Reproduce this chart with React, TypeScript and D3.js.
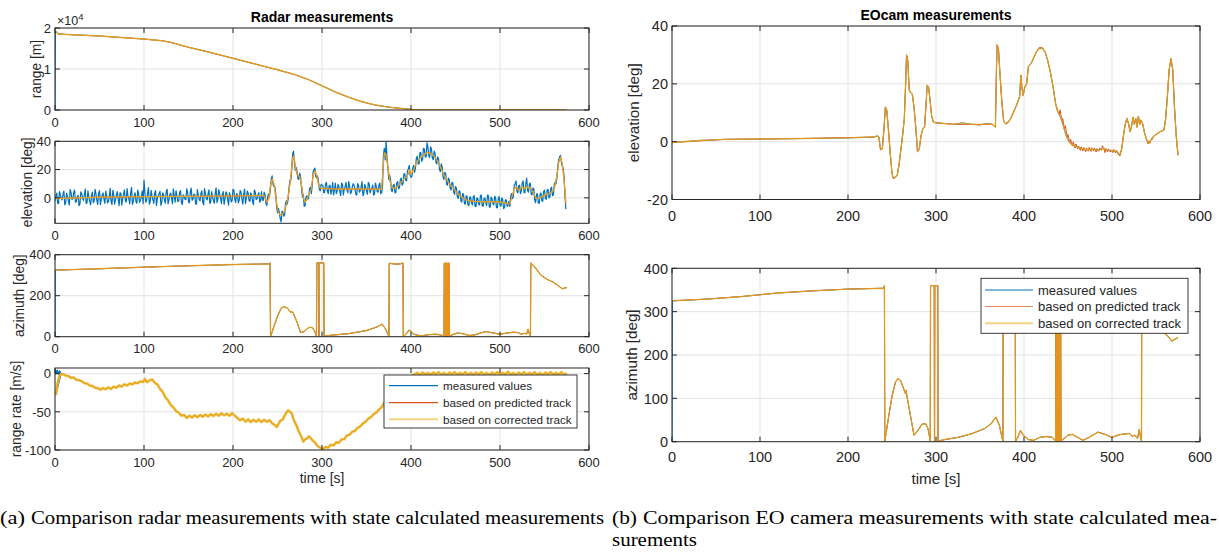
import React from "react";
import * as d3 from "d3";

type Pt = [number, number];

// ---------- shared axis values ----------
const timeTicks = [0, 100, 200, 300, 400, 500, 600];

const BLUE = "#0072BD";
const RED = "#D95319";
const YELLOW = "#EDB120";
const AXIS = "#262626";
const GRID = "#e3e3e3";
const SANS = "Liberation Sans, Arial, Helvetica, sans-serif";
const SERIF = "Liberation Serif, Times New Roman, serif";

// ---------- radar: range [m] ----------
const radarRangeTrack: Pt[] = [
  [1, 19200], [3, 18600], [10, 18450], [50, 18050], [100, 17300], [120, 16900], [130, 16500],
  [150, 15300], [175, 14000], [200, 12600], [225, 11200], [250, 9800], [270, 8600], [285, 7400],
  [300, 5900], [315, 4400], [330, 3100], [345, 2000], [360, 1200], [375, 700], [390, 350],
  [400, 150], [410, 80], [450, 60], [575, 50],
];
const radarRangeFirstMeasured: Pt[] = [[0, 0], [0.4, 18500]];

// ---------- radar: elevation [deg] ----------
// measured samples at even seconds (t = 0, 2, ..., 574)
const radarElevMeasuredEven = [
  -2.1, 3.4, -4.0, 2.2, -1.5, 4.8, -3.6, 1.0, -5.2, 3.9,
  -0.8, 5.5, -2.7, 1.8, -4.4, 3.0, -1.9, 6.2, -3.3, 0.6,
  -5.0, 4.1, -2.2, 2.9, -4.6, 5.1, -1.0, 3.5, -3.9, 1.4,
  -2.6, 6.8, -4.8, 2.0, -1.3, 4.4, -5.6, 3.2, -0.5, 5.7,
  -3.0, 1.1, -4.2, 7.5, -2.4, 3.6, -3.8, 2.5, -1.6, 4.9,
  12.5, -3.1, 2.8, -4.5, 5.3, -1.2, 3.0, -5.4, 1.7, 4.6,
  -2.9, 2.3, -3.7, 6.0, -1.4, 3.4, -4.1, 1.2, 5.0, -2.5,
  3.8, -3.5, 2.1, -0.9, 6.4, -2.8, 4.0, -1.7, 2.6, -4.3,
  5.8, -1.1, 3.3, -3.2, 6.6, -0.6, 2.9, -4.0, 4.5, -1.8,
  3.1, -3.4, 5.9, -0.3, 2.4, -4.7, 4.2, -1.5, 3.7, -2.9,
  6.1, -1.0, 3.0, -3.6, 5.2, -0.8, 2.7, -4.1, 4.8, -1.9,
  3.5, -2.6, 5.6, -1.2, 2.2, -3.0,
  4.5, -1.8, 2.0, -5.5, 2.8, 6.0, 15.5, 8.0, 3.0, -10.5,
  -10.0, -17.0, -9.5, -12.0, -2.0, -0.5, 12.5, 20.0, 33.0, 19.5,
  18.5, 13.0, 14.5, 0.5, -6.0, 0.5, -1.0, 6.5, 3.0, 18.5,
  21.0, 14.0, 12.0, 5.0, 9.0,
  3.5, 10.0, 5.0, 8.5, 2.5, 11.0, 6.0, 3.0, 9.5, 4.5,
  10.5, 2.0, 8.0, 5.5, 11.5, 3.0, 7.5, 9.0, 2.5, 10.0,
  4.0, 8.0, 1.5, 9.5, 5.0, 11.0, 3.5, 7.0, 2.0, 10.5,
  4.5, 9.0, 3.0, 8.0,
  35, 40, 22, 16, 5, 9, 3.5, 10.5, 6.5, 13, 9, 17, 12.5, 19, 23, 14.5,
  21, 18, 28, 24, 32, 26, 35, 29, 39, 30, 36, 28, 33, 25, 29, 20, 24, 15, 18, 9.5,
  14, 7, 11, 4, 8, 1, 5, -2, 3, -4,
  1.5, -5, 0.5, -3.5, 1, -6, 0, -4.5, 1.5, -5.5,
  -0.5, -3.5, 2, -6.5, 0.5, -4, 1, -7, -1, -5,
  0, -7.5, -1.5, -6, -2.5,
  1, -0.5, 9, 12, 3.5, 9, 5, 12, 3.5, 14,
  4, 10.5, 2, 6.5, -3.5, 3, -4, 3.5, -2.5, 5.5,
  -1, 6, 0.5, 7.5, 2, 11, 14.5, 27, 30, 22,
  15, -8,
];
// measured samples at odd seconds (t = 1, 3, ..., 573)
const radarElevMeasuredOdd = [
  1.2, -3.8, 4.5, -0.4, 2.7, -4.9, 3.3, -2.0, 5.9, -1.1,
  3.8, -3.1, 0.9, -5.5, 4.3, -0.2, 2.5, -4.0, 5.0, -2.3,
  1.6, -3.4, 6.1, -1.7, 3.0, -4.8, 2.1, -0.9, 4.7, -3.6,
  0.5, -2.8, 5.3, -4.4, 1.9, -1.0, 3.6, -5.1, 2.4, -2.1,
  6.5, -0.7, 3.2, -4.6, 1.3, -2.9, 5.4, -3.3, 0.2, -4.2,
  4.0, -1.5, 7.2, -2.6, 1.0, -3.9, 5.1, -0.6, 2.8, -5.3,
  3.5, -1.8, 4.6, -4.3, 2.2, -0.4, 6.3, -3.0, 1.5, -2.4,
  5.2, -4.7, 0.8, -1.3, 3.9, -3.5, 6.9, -0.9, 2.3, -4.5,
  1.7, -2.2, 4.9, -5.0, 3.1, -1.4, 5.6, -2.7, 0.6, -3.8,
  7.0, -1.1, 2.6, -4.1, 4.4, -0.5, 3.2, -5.2, 1.4, -2.0,
  5.5, -3.3, 2.0, -1.6, 4.2, -4.4, 6.2, -0.3, 3.4, -2.5,
  1.8, -4.9, 4.1, -0.7, 3.7, -2.2,
  -1.5, 4.0, -4.0, 1.0, 1.0, 13.5, 9.5, 8.0, -6.0, -7.5,
  -14.5, -9.5, -13.0, -4.0, -4.5, 7.5, 12.5, 31.0, 24.5, 21.5,
  13.5, 17.5, 6.5, 2.5, -5.5, 1.5, 0.0, 7.5, 8.5, 20.0,
  15.0, 15.5, 6.0, 9.5,
  8.5, 4.0, 11.0, 3.0, 9.0, 5.5, 2.0, 10.5, 4.5, 8.0,
  1.5, 9.5, 6.0, 11.0, 3.5, 8.5, 4.0, 10.0, 6.5, 2.0,
  9.0, 5.0, 11.5, 3.0, 7.5, 2.5, 10.0, 5.5, 9.0, 2.5,
  8.0, 4.0, 10.5, 3.5,
  30, 27, 29, 13, 13, 4.5, 9.5, 4, 11.5, 7, 14, 10, 17, 12, 20.5, 16,
  15, 23, 21, 29.5, 24, 32, 27, 34.5, 29, 36, 28.5, 34.5, 27, 31.5, 24, 27.5, 18.5, 22, 13, 17,
  9, 13, 5.5, 10.5, 2.5, 7, -0.5, 4.5, -3, 2.5,
  -4.5, 1, -5.5, 0.5, -5, 1.5, -6, -0.5, -5, 2,
  -6, 0, -5.5, 1.5, -6.5, -0.5, -5, 0.5, -7, 1,
  -6, -1, -7, -1.5, -5.5,
  -6, 3, 1, 10, 4.5, 8.5, 3, 10.5, 4, 10,
  5, 9.5, 3, 7, -1.5, 2.5, -3.5, 2.5, -2, 4.5,
  -0.5, 5.5, 0, 6.5, 1.5, 9.5, 10, 23, 29, 25,
  21, 1,
];
const radarElevTrack: Pt[] = [
  [1, -0.5], [50, 0.5], [100, 0.9], [150, 1.1], [200, 1.3], [232, 1.7], [235, 1.2], [238, -3],
  [240, -1], [242, 8], [244, 13.5], [246, 10], [248, 1], [250, -8], [252, -11.5], [255, -12],
  [258, -9], [261, -2], [263, 5], [265, 15], [267, 28], [268.5, 30], [270, 22], [272, 16.5],
  [275, 15], [277, 9], [279, 0], [281, -3], [283, -1], [286, 4], [288, 6], [290, 16], [292, 19],
  [294, 16], [296, 10], [298, 7], [302, 6.5], [320, 6.2], [340, 6.3], [360, 6.2], [367, 6],
  [368.5, 20], [370, 32], [372, 30], [374, 22], [376, 13], [378, 8], [380, 6.5], [383, 7],
  [387, 9.5], [391, 12.5], [395, 15], [397, 17], [398.5, 20], [400, 17], [403, 20], [406, 25],
  [410, 28], [414, 30.5], [418, 32], [422, 31.5], [426, 29.5], [430, 26], [434, 20.5], [438, 15],
  [442, 11], [446, 8], [450, 5], [454, 2], [458, 0], [462, -1.5], [470, -2.5], [480, -2.8],
  [490, -2.7], [500, -3], [506, -3.5], [510, -4.5], [512, -2], [514, 2], [516, 6], [518, 8],
  [520, 6], [522, 5], [524, 8], [526, 7], [528, 6.5], [530, 8], [532, 7], [534, 7.5], [536, 5],
  [538, 3], [540, 0], [543, -0.5], [546, 0.5], [550, 2], [555, 3], [560, 5], [562, 9], [564, 16],
  [566, 25], [568, 29], [570, 24], [572, 13], [574, -4],
];

// ---------- radar: azimuth [deg] ----------
const radarAzimuthTrack: Pt[] = [
  [1, 325], [40, 330], [80, 336], [120, 342], [160, 347], [200, 352], [241, 355], [241.6, 360],
  [242.2, 1], [246, 50], [250, 100], [254, 138], [257, 147], [261, 140], [265, 118], [266.5, 122],
  [268, 112], [272, 70], [276, 20], [280, 25], [285, 45], [289, 45], [292, 25], [293.8, 2],
  [294.2, 360], [296.5, 360], [296.8, 2], [297.1, 360], [302, 360], [302.3, 2], [310, 7],
  [330, 15], [350, 30], [362, 48], [367.5, 62], [371, 40], [375.2, 1], [375.6, 358], [383, 354],
  [388, 355], [391, 360], [391.4, 1], [395, 15], [398, 33], [402, 15], [406, 8], [412, 4],
  [420, 10], [428, 12], [434, 8], [437, 2], [437.5, 359], [438, 1], [438.5, 360], [439, 2],
  [439.4, 359], [439.8, 1], [440.2, 360], [440.6, 3], [441, 358], [441.4, 1], [441.8, 359],
  [442.3, 2], [442.8, 360], [443.2, 3], [447, 10], [452, 18], [458, 15], [465, 6], [471, 8],
  [478, 18], [484, 25], [490, 20], [500, 12], [508, 18], [515, 22], [520, 20], [524, 12],
  [527, 16], [530, 14], [531.5, 36], [533, 15], [534.2, 3], [534.6, 360], [540, 335], [546, 300],
  [553, 280], [560, 265], [565, 250], [570, 234], [573, 238], [575, 240],
];
const radarAzimuthFirstMeasured: Pt[] = [[0, 0], [0.4, 325]];

// ---------- radar: range rate [m/s] ----------
const rangeRateTrack: Pt[] = [
  [1, -28], [3, -12], [5, -3], [7, 0], [9, -1], [12, -2.5], [15, -3], [18, -5.5], [21, -5],
  [24, -8], [27, -8.5], [30, -10], [33, -12.5], [36, -13], [39, -15.5], [42, -16], [45, -18.5],
  [48, -19], [51, -21], [54, -19], [57, -20.5], [60, -18], [63, -20], [66, -17], [69, -18.5],
  [72, -15.5], [75, -17], [78, -14], [81, -15.5], [84, -13], [87, -14], [90, -11.5], [93, -12.5],
  [96, -10], [99, -11], [101, -7], [103, -11], [106, -9], [109, -7.5], [112, -12], [115, -14],
  [118, -20], [121, -24], [124, -31], [127, -35], [130, -41], [133, -44], [136, -49], [139, -51],
  [142, -55], [145, -54], [148, -58], [151, -55], [154, -57.5], [157, -54.5], [160, -57],
  [163, -54], [166, -56.5], [169, -53.5], [172, -56], [175, -53], [178, -55.5], [181, -52.5],
  [184, -55], [187, -52], [190, -54.5], [193, -52.5], [196, -55], [199, -52], [202, -55],
  [205, -58], [208, -61], [211, -59], [214, -63], [217, -60], [220, -63.5], [223, -60.5],
  [226, -63], [229, -60], [232, -63.5], [235, -60.5], [238, -63], [241, -61], [244, -65],
  [247, -67], [249, -70], [251, -66], [253, -62], [256, -60], [258, -55], [260, -51], [262, -48],
  [264, -50], [266, -52], [268, -60], [271, -67], [274, -76], [277, -83], [279, -89], [281, -86],
  [283, -85], [285, -82], [287, -84], [289, -87], [292, -90], [295, -95], [298, -97], [301, -99],
  [304, -96], [307, -97], [310, -93], [313, -94], [316, -90], [319, -90.5], [322, -86],
  [325, -86], [328, -81], [331, -80], [334, -76], [337, -75], [340, -71], [343, -69], [346, -65],
  [349, -63], [352, -59], [355, -57], [358, -53], [361, -51], [364, -47], [367, -44], [370, -38],
  [373, -33], [376, -28], [379, -24], [382, -19], [386, -15], [390, -11], [395, -6], [400, -3],
  [404, -1], [407, 1], [410, -1.5], [413, 1.5], [416, -1], [419, 1], [422, -1.5], [425, 1.5],
  [428, -1], [431, 2], [434, -1.5], [437, 1], [440, -2], [443, 1.5], [446, -1], [449, 2],
  [452, -1.5], [455, 1], [458, -1], [461, 2], [464, -2], [467, 1], [470, -1.5], [473, 1.5],
  [476, -1], [479, 2], [482, -1.5], [485, 1], [488, -2], [491, 1.5], [494, -1], [497, 2],
  [500, -1.5], [503, 1], [506, -1], [509, 2.5], [512, -1.5], [515, 1], [518, -2], [521, 1.5],
  [524, -1], [527, 2], [530, -1.5], [533, 1], [536, -1], [539, 2], [542, -1.5], [545, 1],
  [548, -2], [551, 1.5], [554, -1], [557, 2], [560, -1.5], [563, 1], [566, -1], [569, 2],
  [572, -1.5], [575, 0.5],
];
const rangeRateFirstMeasured: Pt[] = [
  [0, 0], [0.5, 5], [1, -1], [1.5, 4], [2, 1], [2.5, 5], [3, 0], [3.5, 3], [4, -1], [4.5, 2],
  [5, 4], [5.5, 1], [6, 3], [7, 0],
];

// ---------- EO camera: elevation [deg] ----------
const eoElevCorrected: Pt[] = [
  [0, -0.3], [30, 0.4], [60, 0.8], [100, 0.9], [150, 1.1], [200, 1.3], [230, 1.6], [233, 2],
  [235, 1.6], [237, -2.8], [239, -2.5], [241, 5], [242.5, 12], [244, 11], [246, 4], [248, -4],
  [250, -11], [251.5, -12.6], [254, -12.2], [256, -11.5], [258, -8], [260, -3], [262, 2],
  [264, 8], [265.5, 20], [266.5, 30], [268, 28], [269.5, 18], [271, 17], [273, 16.5], [275, 12],
  [277, 5], [279, -3.5], [281, -2.5], [283, 2], [285, 4.5], [287, 5], [288.5, 12], [290, 19.5],
  [291.5, 19], [293, 15], [295, 9], [297, 6.8], [300, 6.5], [310, 6.3], [320, 6], [330, 6.5],
  [340, 6], [350, 5.8], [358, 6.3], [364, 6], [367.5, 5], [368.7, 25], [369.5, 33.5], [371, 32],
  [373, 22], [375, 13], [377, 7], [379, 6.2], [381, 6.3], [384, 7.5], [388, 10], [392, 13],
  [395, 15.5], [396.5, 23], [397.5, 19], [399, 16], [401, 19], [403, 20], [405, 26], [408, 27],
  [411, 29], [414, 31], [417, 32.2], [421, 32.3], [424, 31], [427, 28], [430, 24], [433, 19],
  [436, 13], [439, 10], [442, 8], [445, 5], [448, 2], [451, 0], [454, -1], [458, -1.5],
  [462, -2], [466, -2.5], [472, -2.8], [478, -2.6], [484, -3], [490, -2.4], [496, -3],
  [502, -3.2], [506, -3.5], [509, -4.5], [511, -2.5], [513, 2], [515, 6], [517, 8], [519, 6],
  [520.5, 3.5], [522, 5], [524, 8.5], [525.5, 6], [527, 8], [528.5, 5], [530, 8.8], [531.5, 6],
  [533, 7.5], [535, 6], [537, 3], [539, 1], [541, -0.5], [543, 0], [546, 1.5], [550, 2.5],
  [555, 3.5], [559, 4], [561, 8], [563, 16], [565, 25], [567, 28.5], [569, 25], [571, 12],
  [573, 2], [575, -4.5],
];
const eoElevPredicted: Pt[] = [
  [0, -0.3], [60, 0.8], [150, 1.1], [230, 1.6], [233, 2], [235, 1.6], [237, -2.8], [239, -2.5],
  [241, 5], [242.5, 12], [244, 11], [246, 4], [248, -4], [250, -11], [251.5, -12.8], [254, -12.4],
  [256, -11.5], [258, -8], [260, -3], [262, 2], [264, 8], [265.5, 20], [266.5, 30], [268, 28],
  [269.5, 18], [271, 17], [273, 16.5], [275, 12], [277, 5], [279, -3.5], [281, -2.5], [283, 2],
  [285, 4.5], [287, 5], [288.5, 12], [290, 19.5], [291.5, 19], [293, 15], [295, 9], [297, 6.8],
  [300, 6.5], [320, 6], [340, 6], [364, 6], [367.5, 5], [368.7, 25], [369.5, 33.5], [371, 32],
  [373, 22], [375, 13], [377, 7], [379, 6.2], [384, 7.5], [392, 13], [395, 15.5], [396.5, 23],
  [397.5, 19], [399, 16], [401, 19], [403, 20], [405, 26], [408, 27], [411, 29], [414, 31],
  [417, 32.5], [421, 32.5], [424, 31], [427, 28], [430, 24], [433, 19], [436, 13], [438, 10.5],
  [440, 9.5], [441, 11], [443, 7], [444, 8], [446, 4.5], [447, 5.5], [449, 1.5], [450, 2.5],
  [452, -0.5], [453, 0.8], [455, -1.5], [456, 0], [458, -2.2], [459, -0.8], [461, -2.5],
  [462, -1.5], [464, -3], [465, -1.8], [467, -3.2], [468, -2], [470, -3.5], [471, -2.2],
  [473, -3.3], [474, -2], [476, -3.4], [477, -2.1], [479, -3.2], [480, -2.2], [482, -3.6],
  [483, -2.4], [485, -3.3], [486, -2.2], [488, -3], [489, -1.4], [490.5, -2], [492, -3.8],
  [493, -2.4], [495, -3.5], [496, -2.5], [498, -3.6], [499, -2.8], [501, -3.8], [502, -2.7],
  [504, -3.9], [505, -3], [507, -4.3], [509, -5], [511, -2.5], [513, 2], [515, 6], [517, 8],
  [519, 6], [520.5, 3.5], [522, 5], [524, 8.5], [525.5, 6], [527, 8], [528.5, 5], [530, 8.8],
  [531.5, 6], [533, 7.5], [535, 6], [537, 3], [539, 1], [541, -0.8], [542, 0.3], [543, -0.6],
  [544, 0.6], [546, 0.8], [547, 1.8], [550, 2.5], [555, 3.5], [559, 4], [561, 8], [563, 16],
  [565, 25], [567, 28.8], [569, 25], [571, 12], [573, 2], [575, -4.8],
];

// ---------- EO camera: azimuth [deg] ----------
const eoAzimuthTrack: Pt[] = [
  [1, 325], [40, 329], [80, 335], [120, 343], [160, 348], [200, 352], [241, 354], [241.4, 360],
  [241.8, 1], [246, 55], [250, 105], [254, 138], [257, 146], [260, 140], [264, 118],
  [265.5, 110], [266, 118], [267, 105], [271, 60], [275, 15], [279, 25], [284, 40], [288, 42],
  [291, 30], [293.5, 2], [293.8, 360], [298, 360], [298.3, 2], [298.6, 360], [302, 360],
  [302.3, 1], [310, 5], [325, 10], [340, 18], [355, 30], [363, 42], [368, 57], [372, 38],
  [376, 1], [376.4, 360], [383, 356], [390, 357], [390.4, 1], [393, 10], [396, 26], [399, 15],
  [405, 5], [411, 3], [418, 10], [425, 12], [432, 10], [436, 2], [436.5, 360], [437, 1],
  [437.5, 360], [438, 2], [438.4, 359], [438.8, 1], [439.2, 360], [439.6, 2], [440, 358],
  [440.4, 1], [440.8, 359], [441.2, 3], [441.6, 360], [442, 2], [445, 6], [450, 15], [455, 17],
  [461, 10], [467, 3], [474, 10], [484, 22], [492, 17], [500, 10], [508, 16], [515, 18],
  [520, 19], [523, 12], [526, 15], [529, 8], [531, 28], [532.5, 10], [533.5, 2], [533.8, 360],
  [540, 330], [548, 295], [555, 270], [560, 250], [565, 240], [568, 232], [572, 237],
  [575, 240],
];
const eoAzimuthFirstMeasured: Pt[] = [[0, 0], [0.4, 325]];

const legendLabels = ["measured values", "based on predicted track", "based on corrected track"];

// ---------- drawing helpers ----------
type Box = { l: number; r: number; t: number; b: number };
type Series = { pts: Pt[]; color: string; width: number; opacity: number };

type PanelProps = {
  id: string;
  box: Box;
  yDomain: [number, number];
  yTicks: number[];
  yFmt?: (v: number) => string;
  series: Series[];
  fs: number;
  xLabelDy: number;
  ylabel: string;
  ylabelX: number;
  ylabelFs: number;
};

function Panel(p: PanelProps) {
  const { box } = p;
  const x = d3.scaleLinear().domain([0, 600]).range([box.l, box.r]);
  const y = d3.scaleLinear().domain(p.yDomain).range([box.b, box.t]);
  const line = d3
    .line<Pt>()
    .x((d) => x(d[0]))
    .y((d) => y(d[1]));
  const fmt = p.yFmt ?? ((v: number) => String(v));
  const tk = 5;
  return (
    <g>
      <defs>
        <clipPath id={p.id}>
          <rect x={box.l} y={box.t} width={box.r - box.l} height={box.b - box.t} />
        </clipPath>
      </defs>
      <rect x={box.l} y={box.t} width={box.r - box.l} height={box.b - box.t} fill="#fff" />
      {timeTicks.map((t) => (
        <line key={"gx" + t} x1={x(t)} x2={x(t)} y1={box.t} y2={box.b} stroke={GRID} strokeWidth={1} />
      ))}
      {p.yTicks.map((v) => (
        <line key={"gy" + v} x1={box.l} x2={box.r} y1={y(v)} y2={y(v)} stroke={GRID} strokeWidth={1} />
      ))}
      <g clipPath={`url(#${p.id})`}>
        {p.series.map((s, i) => (
          <path
            key={i}
            d={line(s.pts) ?? ""}
            fill="none"
            stroke={s.color}
            strokeWidth={s.width}
            strokeOpacity={s.opacity}
            strokeLinejoin="round"
          />
        ))}
      </g>
      <rect x={box.l} y={box.t} width={box.r - box.l} height={box.b - box.t} fill="none" stroke={AXIS} strokeWidth={1} />
      {timeTicks.map((t) => (
        <g key={"tx" + t}>
          <line x1={x(t)} x2={x(t)} y1={box.b} y2={box.b - tk} stroke={AXIS} />
          <line x1={x(t)} x2={x(t)} y1={box.t} y2={box.t + tk} stroke={AXIS} />
          <text
            x={x(t)}
            y={box.b + p.xLabelDy}
            textAnchor="middle"
            fontFamily={SANS}
            fontSize={p.fs}
            fill={AXIS}
          >
            {t}
          </text>
        </g>
      ))}
      {p.yTicks.map((v) => (
        <g key={"ty" + v}>
          <line x1={box.l} x2={box.l + tk} y1={y(v)} y2={y(v)} stroke={AXIS} />
          <line x1={box.r} x2={box.r - tk} y1={y(v)} y2={y(v)} stroke={AXIS} />
          <text
            x={box.l - 4}
            y={y(v) + p.fs * 0.36}
            textAnchor="end"
            fontFamily={SANS}
            fontSize={p.fs}
            fill={AXIS}
          >
            {fmt(v)}
          </text>
        </g>
      ))}
      <text
        transform={`translate(${p.ylabelX},${(box.t + box.b) / 2}) rotate(-90)`}
        textAnchor="middle"
        fontFamily={SANS}
        fontSize={p.ylabelFs}
        fill={AXIS}
      >
        {p.ylabel}
      </text>
    </g>
  );
}

type LegendProps = { x: number; y: number; w: number; h: number; rows: number[]; lineX: [number, number]; textX: number; fs: number; predOpacity: number };

function Legend(p: LegendProps) {
  const styles = [
    { c: BLUE, w: 1.2, o: 1 },
    { c: RED, w: 1.2, o: p.predOpacity },
    { c: YELLOW, w: 2, o: 0.55 },
  ];
  return (
    <g>
      <rect x={p.x} y={p.y} width={p.w} height={p.h} fill="#fff" stroke={AXIS} strokeWidth={0.9} />
      {legendLabels.map((lab, i) => (
        <g key={lab}>
          <line
            x1={p.lineX[0]}
            x2={p.lineX[1]}
            y1={p.rows[i]}
            y2={p.rows[i]}
            stroke={styles[i].c}
            strokeWidth={styles[i].w}
            strokeOpacity={styles[i].o}
          />
          <text x={p.textX} y={p.rows[i] + p.fs * 0.36} fontFamily={SANS} fontSize={p.fs} fill={AXIS}>
            {lab}
          </text>
        </g>
      ))}
    </g>
  );
}

function trio(measured: Pt[], predicted: Pt[], corrected: Pt[], cw = 1.3, co = 0.65, mw = 1): Series[] {
  return [
    { pts: measured, color: BLUE, width: mw, opacity: 1 },
    { pts: predicted, color: RED, width: 1, opacity: 1 },
    { pts: corrected, color: YELLOW, width: cw, opacity: co },
  ];
}

export default function App() {
  const radarL = 55;
  const radarR = 589;
  const radarTops = [28, 141.3, 254.7, 368];
  const ph = 82;
  const rb = (i: number): Box => ({ l: radarL, r: radarR, t: radarTops[i], b: radarTops[i] + ph });

  // interleave the even- and odd-second elevation samples into one time series
  const elevMeasuredPts: Pt[] = [];
  radarElevMeasuredEven.forEach((v, i) => {
    elevMeasuredPts.push([2 * i, v]);
    if (i < radarElevMeasuredOdd.length) elevMeasuredPts.push([2 * i + 1, radarElevMeasuredOdd[i]]);
  });

  const eoL = 672;
  const eoR = 1200;

  return (
    <svg
      width={1219}
      height={553}
      viewBox="0 0 1219 553"
      style={{ position: "absolute", left: 0, top: 0, background: "#fff" }}
    >
      <rect x={0} y={0} width={1219} height={553} fill="#fff" />

      {/* ---------------- radar column ---------------- */}
      <text x={(radarL + radarR) / 2} y={21.5} textAnchor="middle" fontFamily={SANS} fontSize={14} fontWeight="bold" fill="#000">
        Radar measurements
      </text>
      <Panel
        id="c-range"
        box={rb(0)}
        yDomain={[0, 20000]}
        yTicks={[0, 10000, 20000]}
        yFmt={(v) => String(v / 10000)}
        series={trio([...radarRangeFirstMeasured, ...radarRangeTrack], radarRangeTrack, radarRangeTrack, 1.5, 0.75)}
        fs={13}
        xLabelDy={16.5}
        ylabel="range [m]"
        ylabelX={40.5}
        ylabelFs={13.8}
      />
      <text x={57} y={25} fontFamily={SANS} fontSize={12.5} fill={AXIS}>
        ×10
        <tspan dy={-5} fontSize={9.5}>4</tspan>
      </text>
      <Panel
        id="c-elev"
        box={rb(1)}
        yDomain={[-18, 40]}
        yTicks={[0, 20, 40]}
        series={trio(elevMeasuredPts, radarElevTrack, radarElevTrack, 1.2, 0.85, 1.2)}
        fs={13}
        xLabelDy={16.5}
        ylabel="elevation [deg]"
        ylabelX={31.5}
        ylabelFs={13.8}
      />
      <Panel
        id="c-az"
        box={rb(2)}
        yDomain={[0, 400]}
        yTicks={[0, 200, 400]}
        series={trio([...radarAzimuthFirstMeasured, ...radarAzimuthTrack], radarAzimuthTrack, radarAzimuthTrack, 1.4, 0.7)}
        fs={13}
        xLabelDy={16.5}
        ylabel="azimuth [deg]"
        ylabelX={23.5}
        ylabelFs={13.8}
      />
      <Panel
        id="c-rr"
        box={rb(3)}
        yDomain={[-100, 7.4]}
        yTicks={[-100, -50, 0]}
        series={trio([...rangeRateFirstMeasured, ...rangeRateTrack], rangeRateTrack, rangeRateTrack, 2.6, 0.9)}
        fs={13}
        xLabelDy={16.5}
        ylabel="range rate [m/s]"
        ylabelX={21}
        ylabelFs={13.8}
      />
      <text x={(radarL + radarR) / 2} y={483} textAnchor="middle" fontFamily={SANS} fontSize={13.8} fill={AXIS}>
        time [s]
      </text>
      <Legend
        x={384}
        y={375}
        w={193}
        h={53}
        rows={[385.7, 402.7, 419.3]}
        lineX={[389, 438]}
        textX={443}
        fs={11.7}
        predOpacity={1}
      />

      {/* ---------------- EO camera column ---------------- */}
      <text x={(eoL + eoR) / 2} y={19.5} textAnchor="middle" fontFamily={SANS} fontSize={14} fontWeight="bold" fill="#000">
        EOcam measurements
      </text>
      <Panel
        id="c-eo-elev"
        box={{ l: eoL, r: eoR, t: 26, b: 199.5 }}
        yDomain={[-20, 40]}
        yTicks={[-20, 0, 20, 40]}
        series={trio(eoElevCorrected, eoElevPredicted, eoElevCorrected, 1.4, 0.7)}
        fs={14.5}
        xLabelDy={21.5}
        ylabel="elevation [deg]"
        ylabelX={639}
        ylabelFs={15.2}
      />
      <Panel
        id="c-eo-az"
        box={{ l: eoL, r: eoR, t: 268.3, b: 441.7 }}
        yDomain={[0, 400]}
        yTicks={[0, 100, 200, 300, 400]}
        series={trio([...eoAzimuthFirstMeasured, ...eoAzimuthTrack], eoAzimuthTrack, eoAzimuthTrack, 1.4, 0.7)}
        fs={14.5}
        xLabelDy={20.5}
        ylabel="azimuth [deg]"
        ylabelX={637}
        ylabelFs={15.2}
      />
      <text x={(eoL + eoR) / 2} y={483.5} textAnchor="middle" fontFamily={SANS} fontSize={15.2} fill={AXIS}>
        time [s]
      </text>
      <Legend
        x={981}
        y={278.3}
        w={207}
        h={55}
        rows={[290, 306.5, 323.3]}
        lineX={[985, 1033]}
        textX={1038}
        fs={13}
        predOpacity={0.7}
      />

      {/* ---------------- captions ---------------- */}
      <g fontFamily={SERIF} fontSize={18} fill="#000">
        <text x={0} y={523.5} textLength={25} lengthAdjust="spacingAndGlyphs">(a)</text>
        <text x={31} y={523.5} textLength={573} lengthAdjust="spacingAndGlyphs">
          Comparison radar measurements with state calculated measurements
        </text>
        <text x={612} y={523.5} textLength={25} lengthAdjust="spacingAndGlyphs">(b)</text>
        <text x={643} y={523.5} textLength={574} lengthAdjust="spacingAndGlyphs">
          Comparison EO camera measurements with state calculated mea-
        </text>
        <text x={612} y={546} textLength={85} lengthAdjust="spacingAndGlyphs">surements</text>
      </g>
    </svg>
  );
}
